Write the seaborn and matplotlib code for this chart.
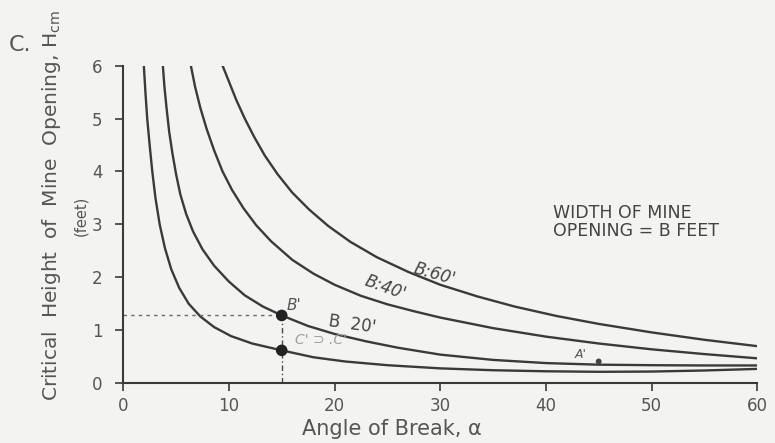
import matplotlib
matplotlib.use("Agg")
import matplotlib.pyplot as plt
import seaborn as sns
import pandas as pd

# ---- data ----
alpha_c1 = [1.95, 2.1, 2.27, 2.5, 2.75, 3.05, 3.45, 3.95, 4.55, 5.3, 6.2, 7.3, 8.6, 10.2, 12.2, 15, 18, 21, 25, 30, 35, 40, 45, 50, 55, 60]
H_c1 = [6.0, 5.5, 5.0, 4.5, 4.0, 3.5, 3.0, 2.55, 2.15, 1.8, 1.5, 1.26, 1.06, 0.89, 0.75, 0.62, 0.49, 0.41, 0.34, 0.28, 0.245, 0.225, 0.215, 0.22, 0.24, 0.27]

alpha_b20 = [3.75, 3.9, 4.1, 4.35, 4.65, 5.0, 5.4, 5.95, 6.6, 7.5, 8.6, 10, 11.5, 13.2, 15, 17.5, 20, 23, 26, 30, 35, 40, 45, 50, 55, 60]
H_b20 = [6.0, 5.6, 5.2, 4.75, 4.35, 3.95, 3.57, 3.2, 2.87, 2.53, 2.22, 1.92, 1.66, 1.45, 1.28, 1.08, 0.93, 0.79, 0.67, 0.54, 0.44, 0.38, 0.35, 0.34, 0.335, 0.335]

alpha_b40 = [6.4, 6.8, 7.3, 7.9, 8.6, 9.4, 10.3, 11.4, 12.6, 14, 16, 18, 20, 22.5, 25, 27.5, 30, 35, 40, 45, 50, 55, 60]
H_b40 = [6.0, 5.6, 5.2, 4.8, 4.4, 4.0, 3.65, 3.3, 2.98, 2.68, 2.33, 2.07, 1.86, 1.65, 1.49, 1.36, 1.24, 1.04, 0.88, 0.75, 0.64, 0.55, 0.47]

alpha_b60 = [9.4, 10.0, 10.7, 11.5, 12.4, 13.4, 14.6, 16, 17.6, 19.4, 21.5, 24, 27, 30, 33.5, 37, 41, 45, 50, 55, 60]
H_b60 = [6.0, 5.7, 5.35, 5.0, 4.65, 4.3, 3.95, 3.6, 3.28, 2.97, 2.67, 2.38, 2.1, 1.86, 1.64, 1.45, 1.27, 1.12, 0.96, 0.82, 0.70]

point_names = ["B'", "C'", "A'"]
point_alpha = [15, 15, 45]
point_H = [1.28, 0.62, 0.41]

x_ticks = [0, 10, 20, 30, 40, 50, 60]
y_ticks = [0, 1, 2, 3, 4, 5, 6]

curve_labels = ["B:60'", "B:40'", "B  20'"]

# ---- build long table ----
frames = []
for name, a, h in [("c1", alpha_c1, H_c1), ("b20", alpha_b20, H_b20),
                   ("b40", alpha_b40, H_b40), ("b60", alpha_b60, H_b60)]:
    frames.append(pd.DataFrame({"alpha": a, "H": h, "curve": name}))
df = pd.concat(frames, ignore_index=True)
pts = pd.DataFrame({"alpha": point_alpha, "H": point_H, "name": point_names})

sns.set_theme(style="ticks")
plt.rcParams["font.family"] = ["DejaVu Sans"]
BG = "#f3f3f1"
INK = "#3a3a3a"

fig = plt.figure(figsize=(7.75, 4.43), dpi=100, facecolor=BG)
ax = fig.add_axes([0.159, 0.135, 0.818, 0.717])
ax.set_facecolor(BG)

sns.lineplot(data=df, x="alpha", y="H", units="curve", estimator=None,
             sort=False, color=INK, linewidth=1.7, ax=ax, legend=False)

# guide lines to B' point
bx, by = point_alpha[0], point_H[0]
ax.plot([0, bx], [by, by], color="#6a6a6a", linewidth=1.0, linestyle=(0, (2.5, 3)))
ax.plot([bx, bx], [0, by], color="#4a4a4a", linewidth=1.0, linestyle=(0, (4, 2, 1, 2)))

sns.scatterplot(data=pts.iloc[:2], x="alpha", y="H", color="#222222", s=70,
                edgecolor="none", ax=ax, legend=False, zorder=5)
sns.scatterplot(data=pts.iloc[2:], x="alpha", y="H", color="#444444", s=18,
                edgecolor="none", ax=ax, legend=False, zorder=5)

ax.set_xlim(0, 60)
ax.set_ylim(0, 6)
ax.set_xticks(x_ticks)
ax.set_yticks(y_ticks)
ax.set_xticklabels([str(t) for t in x_ticks], fontsize=12, color="#555555")
ax.set_yticklabels([str(t) for t in y_ticks], fontsize=12, color="#555555")
ax.tick_params(axis="both", direction="out", length=6, width=1.2, color=INK)
ax.tick_params(axis="y", pad=9)
ax.tick_params(axis="x", pad=4)
sns.despine(ax=ax)
for s in ["left", "bottom"]:
    ax.spines[s].set_color(INK)
    ax.spines[s].set_linewidth(1.5)

ax.set_xlabel("Angle of Break, α", fontsize=15, color="#555555")
ax.xaxis.set_label_coords(0.424, -0.112)
ax.set_ylabel("Critical  Height  of  Mine  Opening, H$_{\\mathregular{cm}}$",
              fontsize=14.5, color="#555555")
ax.yaxis.set_label_coords(-0.095, 0.56)

fig.text(81 / 775, 1 - 216 / 443, "(feet)", rotation=90, fontsize=10.5,
         color="#555555", ha="center", va="center")
fig.text(20 / 775, 1 - 45 / 443, "C.", fontsize=16, color="#555555",
         ha="center", va="center")

ax.text(40.7, 3.05, "WIDTH OF MINE\nOPENING = B FEET", fontsize=12.5,
        color="#444444", ha="left", va="center", linespacing=1.0)

ax.text(29.5, 2.06, curve_labels[0], fontsize=12, color="#444444",
        rotation=-16, ha="center", va="center", style="italic")
ax.text(24.8, 1.81, curve_labels[1], fontsize=12, color="#444444",
        rotation=-20, ha="center", va="center", style="italic")
ax.text(21.7, 1.12, curve_labels[2], fontsize=12, color="#444444",
        rotation=-8, ha="center", va="center")

ax.text(16.2, 1.46, point_names[0], fontsize=11, color="#555555",
        ha="center", va="center", style="italic")
ax.text(18.7, 0.82, "C' ⊃ .C'", fontsize=10, color="#a0a0a0",
        ha="center", va="center", style="italic")
ax.text(43.3, 0.55, point_names[2], fontsize=9, color="#555555",
        ha="center", va="center", style="italic")

fig.savefig("out.png", dpi=100, facecolor=BG)
